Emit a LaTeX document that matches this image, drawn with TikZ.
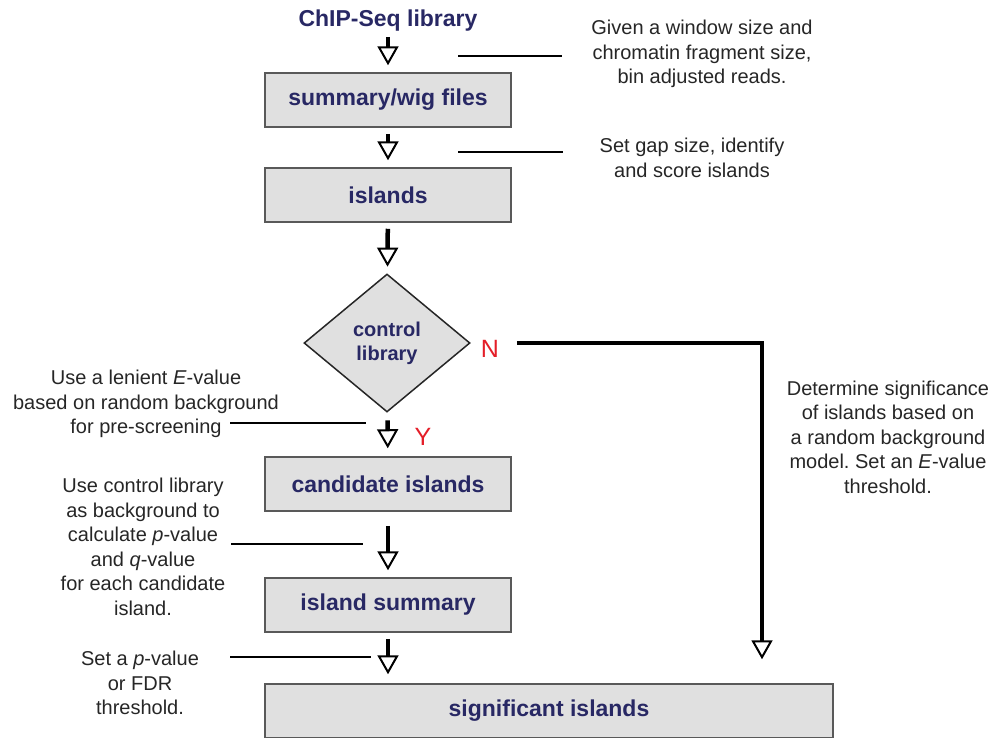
\documentclass[tikz,border=0pt]{standalone}
\usepackage{fontspec}
\setmainfont{Liberation Sans}
\usetikzlibrary{positioning, shapes.geometric, arrows.meta}

\definecolor{boxnavy}{RGB}{40,40,100}
\definecolor{boxgray}{RGB}{224,224,224}
\definecolor{labelred}{RGB}{228,30,40}

\frenchspacing

\begin{document}
\begin{tikzpicture}[
		x=1pt, y=-1pt,
		stepbox/.style={rectangle, draw=black!65, line width=1.5pt, fill=boxgray,
				minimum width=246pt, minimum height=54pt,
				font=\fontsize{23}{27}\selectfont\bfseries, text=boxnavy},
		choice/.style={diamond, draw=black!85, line width=1.5pt, fill=boxgray,
				minimum width=166pt, minimum height=138pt, inner sep=0pt, align=center,
				font=\fontsize{20}{24}\selectfont\bfseries, text=boxnavy},
		note/.style={align=center, text=black!85, font=\fontsize{20}{24.5}\selectfont},
		leader/.style={line width=1.2pt},
		flow/.style={line width=4.5pt, -{Triangle[open, length=19pt, width=21pt, line width=2pt]}},
		answer/.style={text=labelred, font=\fontsize{25}{30}\selectfont}
	]

	\useasboundingbox (0,0) rectangle (995,737);

	\def \cx {388}

	% main flow
	\node[inner sep=0pt, font=\fontsize{23}{27}\selectfont\bfseries, text=boxnavy] (lib) at (\cx,21) {ChIP-Seq library};
	\node[stepbox] (wig) at (\cx,100) {summary/wig files};
	\node[stepbox] (isl) at (\cx,195) {islands};
	\node[choice] (ctl) at (387,343) {control\\library};
	\node[stepbox] (cand) at (\cx,484) {candidate islands};
	\node[stepbox] (isum) at (\cx,605) {island summary};
	\node[stepbox, minimum width=568pt] (sig) at (549,711) {significant islands};

	\draw[flow, shorten <=5pt, shorten >=7pt] (lib) -- (wig);
	\draw[flow, shorten <=6pt, shorten >=7pt] (wig) -- (isl);
	\draw[flow, shorten <=6pt, shorten >=7pt] (isl) -- (ctl);
	\draw[flow, shorten <=8pt, shorten >=8pt] (ctl) -- (cand);
	\draw[flow, shorten <=14pt, shorten >=7pt] (cand) -- (isum);
	\draw[flow, shorten <=6pt, shorten >=9pt] (isum) -- (isum |- sig.north);

	% no control library
	\coordinate (nturn) at (762,343);
	\draw[flow, shorten <=46pt, shorten >=24pt] (ctl.east) -- (nturn) -- (nturn |- sig.north);

	\node[answer] (no) at (490,349) {N};
	\node[answer] (yes) at (423,437) {Y};

	% notes
	\node[note] (n-win) at (702,54) {Given a window size and\\chromatin fragment size,\\bin adjusted reads.};
	\node[note] (n-gap) at (692,158) {Set gap size, identify\\and score islands};
	\node[note] (n-len) at (146,404) {Use a lenient \textit{E}-value\\based on random background\\for pre-screening};
	\node[note] (n-ctl) at (143,547) {Use control library\\as background to\\calculate \textit{p}-value\\and \textit{q}-value\\for each candidate\\island.};
	\node[note] (n-thr) at (140,683) {Set a \textit{p}-value\\or FDR\\threshold.};
	\node[note] (n-sig) at (888,437) {Determine significance\\of islands based on\\a random background\\model. Set an \textit{E}-value\\threshold.};

	\foreach \n/\xa/\xb/\y in {win/458/562/56, gap/458/563/152, len/230/366/423, ctl/231/363/544, thr/230/371/657} {
			\coordinate (\n-a) at (\xa,\y);
			\coordinate (\n-b) at (\xb,\y);
			\draw[leader] (\n-a) -- (\n-b);
		}

\end{tikzpicture}
\end{document}
